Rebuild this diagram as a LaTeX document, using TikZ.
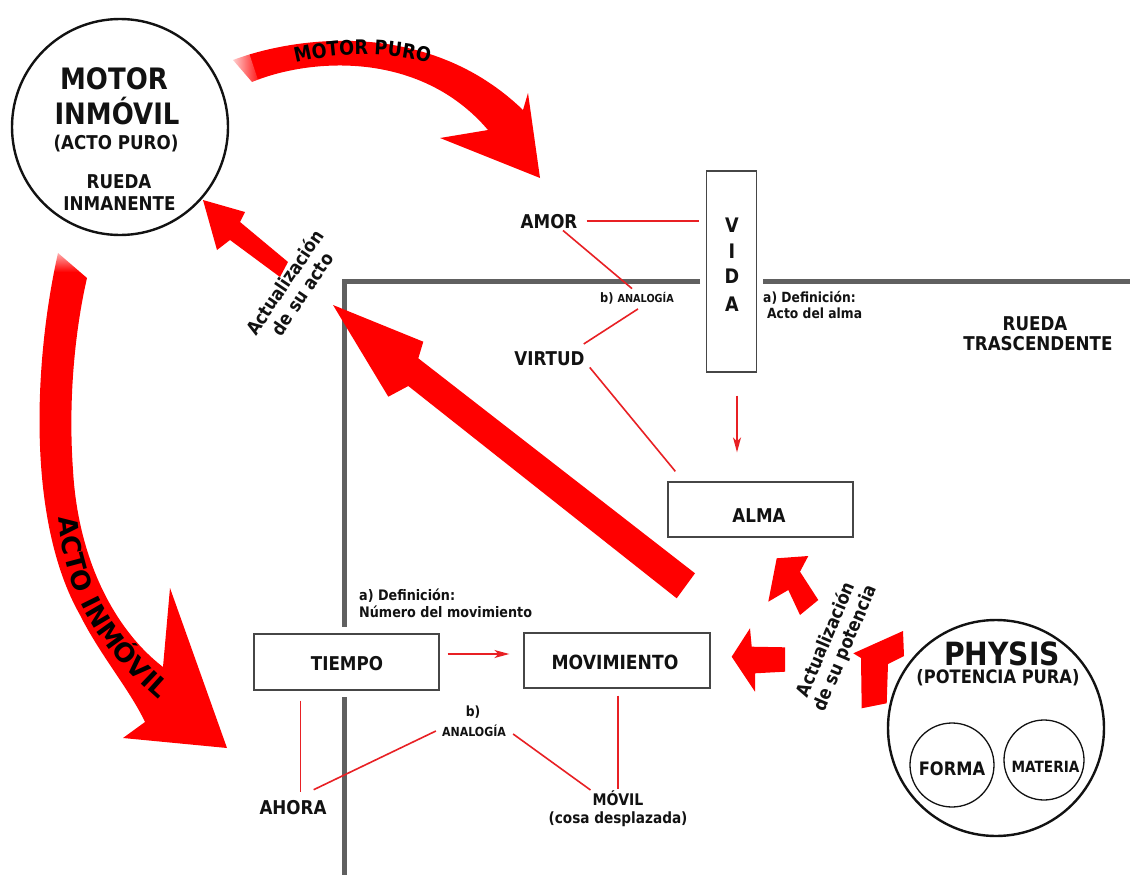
\documentclass[tikz,border=0pt]{standalone}
\usepackage{fontspec}
\setmainfont{DejaVu Sans}[FakeStretch=0.88]
\newfontfamily\widebold{DejaVu Sans}
\usetikzlibrary{calc,arrows.meta,decorations.text,fadings}
\definecolor{arrowred}{RGB}{255,0,0}
\definecolor{linered}{RGB}{232,32,36}
\definecolor{framegray}{RGB}{96,96,96}
\definecolor{boxgray}{RGB}{70,70,70}
\definecolor{ink}{RGB}{18,18,18}
\newcommand\fsz[1]{\fontsize{#1}{#1}\selectfont\bfseries}
\begin{document}
\begin{tikzpicture}[x=1pt,y=-1pt,
  every node/.style={inner sep=0pt, text=ink},
  lbl/.style={anchor=base, font=\fsz{19}},
  note/.style={anchor=base west, font=\fsz{14}},
  boxnode/.style={draw=boxgray, line width=1.3pt, fill=white},
  ring/.style={circle, draw=ink, line width=2.4pt},
  smallring/.style={circle, draw=ink, line width=1.3pt},
  redline/.style={draw=linered, line width=1.6pt},
  redarrow/.style={redline, -{Stealth[length=15pt,width=8pt,inset=4pt]}},
  frameline/.style={draw=framegray, line width=5pt},
  bigred/.style={fill=arrowred},
  caption/.style={font=\fontsize{18.5}{21}\selectfont\bfseries, align=center}]
\useasboundingbox (0,0) rectangle (1130,875);
\fill[white] (0,0) rectangle (1130,875);

% frame of the transcendent wheel
\draw[frameline] (700,281) -- (344,281) -- (344,627);
\draw[frameline] (344,697) -- (344,878);
\draw[frameline] (763,281) -- (1133,281);

% boxes
\node[boxnode, minimum width=49.6pt, minimum height=201pt] (vida) at (731.5,271.5) {};
\foreach \l/\yy in {V/232,I/258,D/283,A/311}
  \node[lbl, font=\fsz{20}] (vida\l) at (732,\yy) {\l};
\node[boxnode, minimum width=185pt, minimum height=55pt] (alma) at (760.5,509.5) {};
\node[lbl] (almaT) at (759,522) {ALMA};
\node[boxnode, minimum width=185pt, minimum height=56pt] (tiempo) at (346.5,662) {};
\node[lbl] (tiempoT) at (347,670) {TIEMPO};
\node[boxnode, minimum width=186pt, minimum height=55pt] (movim) at (617,660.5) {};
\node[lbl, font=\fsz{19.5}] (movimT) at (615,669) {MOVIMIENTO};

% free labels
\node[lbl] (amor) at (549,228) {AMOR};
\node[lbl] (virtud) at (549.5,365) {VIRTUD};
\node[lbl] (ahora) at (293,814) {AHORA};
\node[lbl, font=\fsz{16}] (movil) at (618,805) {MÓVIL};
\node[lbl, font=\fsz{15.5}] (cosa) at (618,823) {(cosa desplazada)};
\node[anchor=base west, font=\fsz{13}] (analA) at (600,302) {b) {\fsz{11}ANALOGÍA}};
\node[anchor=base, font=\fsz{14}] (bB) at (473,716.7) {b)};
\node[lbl, font=\fsz{12.5}] (analB) at (474,736.7) {ANALOGÍA};
\node[note] (defA1) at (763,302) {a) Definición:};
\node[note] (defA2) at (767,318) {Acto del alma};
\node[note, font=\fsz{14.5}] (defT1) at (359,600) {a) Definición:};
\node[note, font=\fsz{14.5}] (defT2) at (359,617) {Número del movimiento};
\node[lbl] (ruedaT1) at (1035,330) {RUEDA};
\node[lbl] (ruedaT2) at (1038,350) {TRASCENDENTE};

% unmoved mover
\node[ring, minimum size=216pt] (motor) at (120,127) {};
\node[lbl, font=\fsz{29.5}] (motorL1) at (114,89) {MOTOR};
\node[lbl, font=\fsz{29.5}] (motorL2) at (117,124) {INMÓVIL};
\node[lbl] (motorL3) at (116,149) {(ACTO PURO)};
\node[lbl] (motorL4) at (119,188) {RUEDA};
\node[lbl] (motorL5) at (119.5,210) {INMANENTE};

% physis
\node[ring, minimum size=216pt] (physis) at (996,728) {};
\node[lbl, font=\fsz{32}] (physisL1) at (1002,665) {PHYSIS};
\node[lbl, font=\fsz{18.5}] (physisL2) at (998,683) {(POTENCIA PURA)};
\node[smallring, minimum size=84pt] (forma) at (952,765) {};
\node[lbl, font=\fsz{18.5}] (formaT) at (952,775) {FORMA};
\node[smallring, minimum size=80pt] (materia) at (1044,760) {};
\node[lbl, font=\fsz{15.5}] (materiaT) at (1045.5,772) {MATERIA};

% thin red connectors
\draw[redline, shorten <=9pt, shorten >=7pt] (amor.east) -- (amor.east -| vida.west);
\draw[redline] ($(amor.south)+(14,2)$) -- ($(analA.north west)+(32,-3)$);
\draw[redline] ($(analA.south west)+(38,5)$) -- ($(virtud.north east)+(-1,-7)$);
\draw[redline] ($(virtud.south east)+(5,2)$) -- ($(alma.north west)+(8,-10)$);
\draw[redarrow] ($(vida.south)+(5.5,23)$) -- ($(vida.south |- alma.north)+(5.5,-29)$);
\draw[redarrow] ($(tiempo.east)+(8,-8)$) -- ($(tiempo.east -| movim.west)+(-14,-8)$);
\draw[redline] ($(tiempo.south west)+(47,10)$) -- ($(tiempo.south west |- ahora.north)+(47,-8)$);
\draw[redline] ($(analB.west)+(-6,0)$) -- ($(ahora.north east)+(-13,-10)$);
\draw[redline] ($(analB.east)+(7,3)$) -- ($(movil.north west)+(-2,0)$);
\draw[redline] ($(movim.south)+(1,7)$) -- ($(movim.south |- movil.north)+(1,-1)$);

% broad red arrows
\fill[bigred] (233,60) .. controls (300,35) and (430,20) .. (523,110) -- (528,93)
  -- (540,178) -- (440,138) -- (488,130) .. controls (420,50) and (310,58) .. (252,82) -- cycle;
\fill[bigred] (58,253) .. controls (34,360) and (26,520) .. (80,615)
  .. controls (100,655) and (130,690) .. (145,722) -- (123,738) -- (227,748)
  -- (170,588) -- (163,667) .. controls (115,630) and (78,560) .. (73,470)
  .. controls (68,400) and (75,330) .. (87,278) -- cycle;
\fill[bigred] (203,200) -- (245,212) -- (240,222) -- (288,262) -- (280,277) -- (230,240) -- (217,250) -- cycle;
\fill[bigred] (333,305) -- (423.3,341.7) -- (418.3,358.3) -- (695,573.3) -- (676.7,598.3) -- (408.3,386) -- (388.3,396.7) -- cycle;
\fill[bigred] (776.7,558.3) -- (808.3,556) -- (800,571.7) -- (818.3,600) -- (800,615) -- (788.3,590) -- (768.3,601.7) -- cycle;
\fill[bigred] (731.7,656.7) -- (750,628.3) -- (751.7,646.7) -- (785,647.3) -- (785,671.7) -- (755,673.3) -- (755,691.7) -- cycle;
\fill[bigred] (853.3,653.3) -- (903,631) -- (904,656) -- (888,664) -- (886.7,703.3) -- (861.7,708.3) -- (861,658) -- cycle;

% soft tails of the two curved arrows
\fill[white, path fading=east] (226,50) -- (246,44) -- (262,92) -- (242,98) -- cycle;
\fill[white, path fading=south] (30,244) rectangle (100,272);

% words written along the broad arrows
\path[decorate, decoration={text along path, text align=center,
  text={|\fsz{20}|MOTOR PURO}}]
  (285,66) .. controls (330,52) and (390,50) .. (440,66);
\path[decorate, decoration={text along path, text align=center,
  text={|\widebold\bfseries\fontsize{26}{26}\selectfont|ACTO INMÓVIL}}]
  (58,492) .. controls (57,588) and (97,652) .. (178,716);

% rotated captions
\node[caption, rotate=56] (actoL) at (293,288) {Actualización\\de su acto};
\node[caption, rotate=67] (potL) at (836,644) {Actualización\\de su potencia};
\end{tikzpicture}
\end{document}
